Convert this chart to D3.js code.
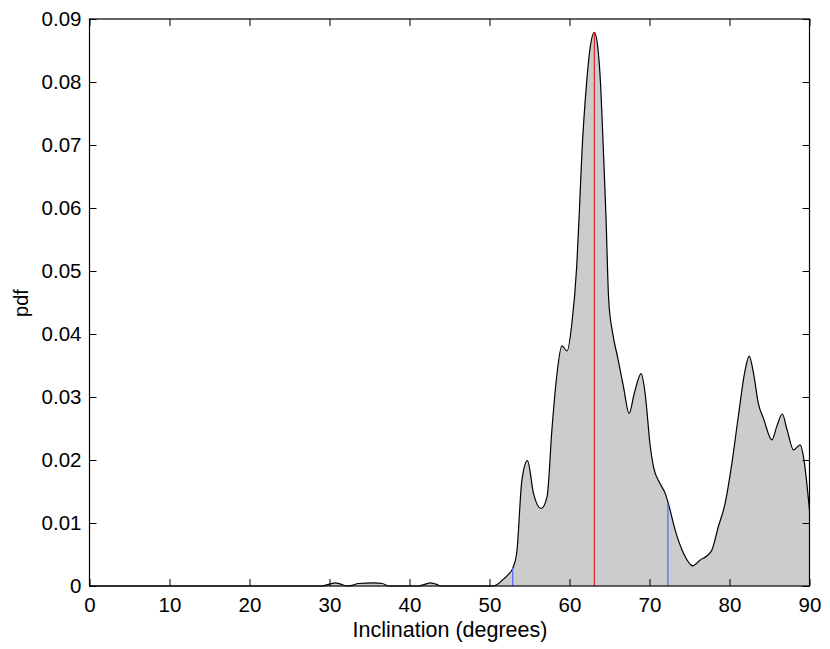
<!DOCTYPE html>
<html><head><meta charset="utf-8">
<script src="https://cdn.jsdelivr.net/npm/d3@7"></script>
<style>body{margin:0;background:#fff}svg text{font-family:"Liberation Sans",Arial,sans-serif;fill:#000}</style>
</head><body>
<svg id="c" width="830" height="649"></svg>
<script>
const inclination = [0,29,30.0,30.7,31.4,32.2,32.8,33.6,35.5,36.6,37.4,41.1,42.0,42.6,43.3,44.0,50.3,50.9,51.75,52.4,52.9,53.4,54.05,54.75,55.5,56.45,57.2,57.8,58.4,59.05,59.7,60.3,60.9,61.25,61.55,62.1,62.6,63.1,63.5,63.9,64.25,64.55,64.9,65.4,66.0,66.75,67.45,68.1,68.96,69.45,70.1,70.5,71.3,71.96,72.4,73.2,74.25,75.4,76.3,77.2,77.8,78.6,79.45,80.3,81.1,81.96,82.46,83.0,83.6,84.25,85.3,85.9,86.6,87.2,88.0,88.85,89.25,90];
const pdf = [0,0,0.0003,0.0005,0.0003,0,0.0001,0.0004,0.0005,0.0004,0,0,0.0003,0.0005,0.0003,0,0,0.0002,0.0011,0.0019,0.0028,0.0052,0.0168,0.0199,0.0147,0.0123,0.0142,0.0248,0.0333,0.0381,0.0373,0.0417,0.0507,0.0600,0.0687,0.0793,0.0856,0.0879,0.0859,0.0793,0.0687,0.0590,0.0454,0.0401,0.0364,0.0316,0.0274,0.0306,0.0337,0.0306,0.0221,0.0189,0.0163,0.0147,0.0129,0.0089,0.0052,0.0032,0.0041,0.0048,0.0057,0.0094,0.0131,0.0195,0.0269,0.0343,0.0365,0.0338,0.029,0.0266,0.0232,0.0253,0.0273,0.0248,0.0216,0.0224,0.0205,0.012];
const modeLine = {x:63.1, y:0.0879};
const boundLines = [{x:52.9, y:0.0028},{x:72.3, y:0.0130}];
const xTicks = [0,10,20,30,40,50,60,70,80,90];
const yTicks = [0,0.01,0.02,0.03,0.04,0.05,0.06,0.07,0.08,0.09];
const xLabel = "Inclination (degrees)", yLabel = "pdf";

const svg = d3.select("#c");
const L=89.5, R=809.5, T=19, B=586;
const x = d3.scaleLinear().domain([0,90]).range([L,R]);
const y = d3.scaleLinear().domain([0,0.09]).range([B,T]);
const pts = inclination.map((d,i)=>[d,pdf[i]]);

svg.append("path").datum(pts)
  .attr("d", d3.area().x(d=>x(d[0])).y0(y(0)).y1(d=>y(d[1])).curve(d3.curveMonotoneX))
  .attr("fill","#cccccc");
svg.append("path").datum(pts)
  .attr("d", d3.line().x(d=>x(d[0])).y(d=>y(d[1])).curve(d3.curveMonotoneX))
  .attr("fill","none").attr("stroke","#000").attr("stroke-width",1.2);

svg.append("line").attr("x1",x(modeLine.x)).attr("x2",x(modeLine.x)).attr("y1",y(0)).attr("y2",y(modeLine.y))
  .attr("stroke","#e00000").attr("stroke-width",1);
svg.selectAll("line.b").data(boundLines).enter().append("line").attr("class","b")
  .attr("x1",d=>x(d.x)).attr("x2",d=>x(d.x)).attr("y1",y(0)).attr("y2",d=>y(d.y))
  .attr("stroke","#5a6cff").attr("stroke-width",1.3);

const tl=7;
svg.append("g").attr("transform",`translate(0,${B})`)
  .call(d3.axisBottom(x).tickValues(xTicks).tickSize(-tl).tickPadding(11).tickFormat(d3.format("d")));
svg.append("g").attr("transform",`translate(0,${T})`)
  .call(d3.axisTop(x).tickValues(xTicks).tickSize(-tl).tickFormat(""));
svg.append("g").attr("transform",`translate(${L},0)`)
  .call(d3.axisLeft(y).tickValues(yTicks).tickSize(-tl).tickPadding(8).tickFormat(d=>d===0?"0":d3.format(".2f")(d)));
svg.append("g").attr("transform",`translate(${R},0)`)
  .call(d3.axisRight(y).tickValues(yTicks).tickSize(-tl).tickFormat(""));
svg.selectAll(".domain").remove();
svg.selectAll(".tick line").attr("stroke","#000");
svg.selectAll(".tick text").attr("font-size",20.5).attr("font-family","Liberation Sans, Arial, sans-serif").attr("fill","#000");
svg.append("rect").attr("x",L).attr("y",T).attr("width",R-L).attr("height",B-T)
  .attr("fill","none").attr("stroke","#000").attr("stroke-width",1.2);

svg.append("text").attr("x",450).attr("y",637).attr("text-anchor","middle").attr("font-size",21.5).text(xLabel);
svg.append("text").attr("transform",`translate(28,303) rotate(-90)`).attr("text-anchor","middle").attr("font-size",20).text(yLabel);
</script>
</body></html>
